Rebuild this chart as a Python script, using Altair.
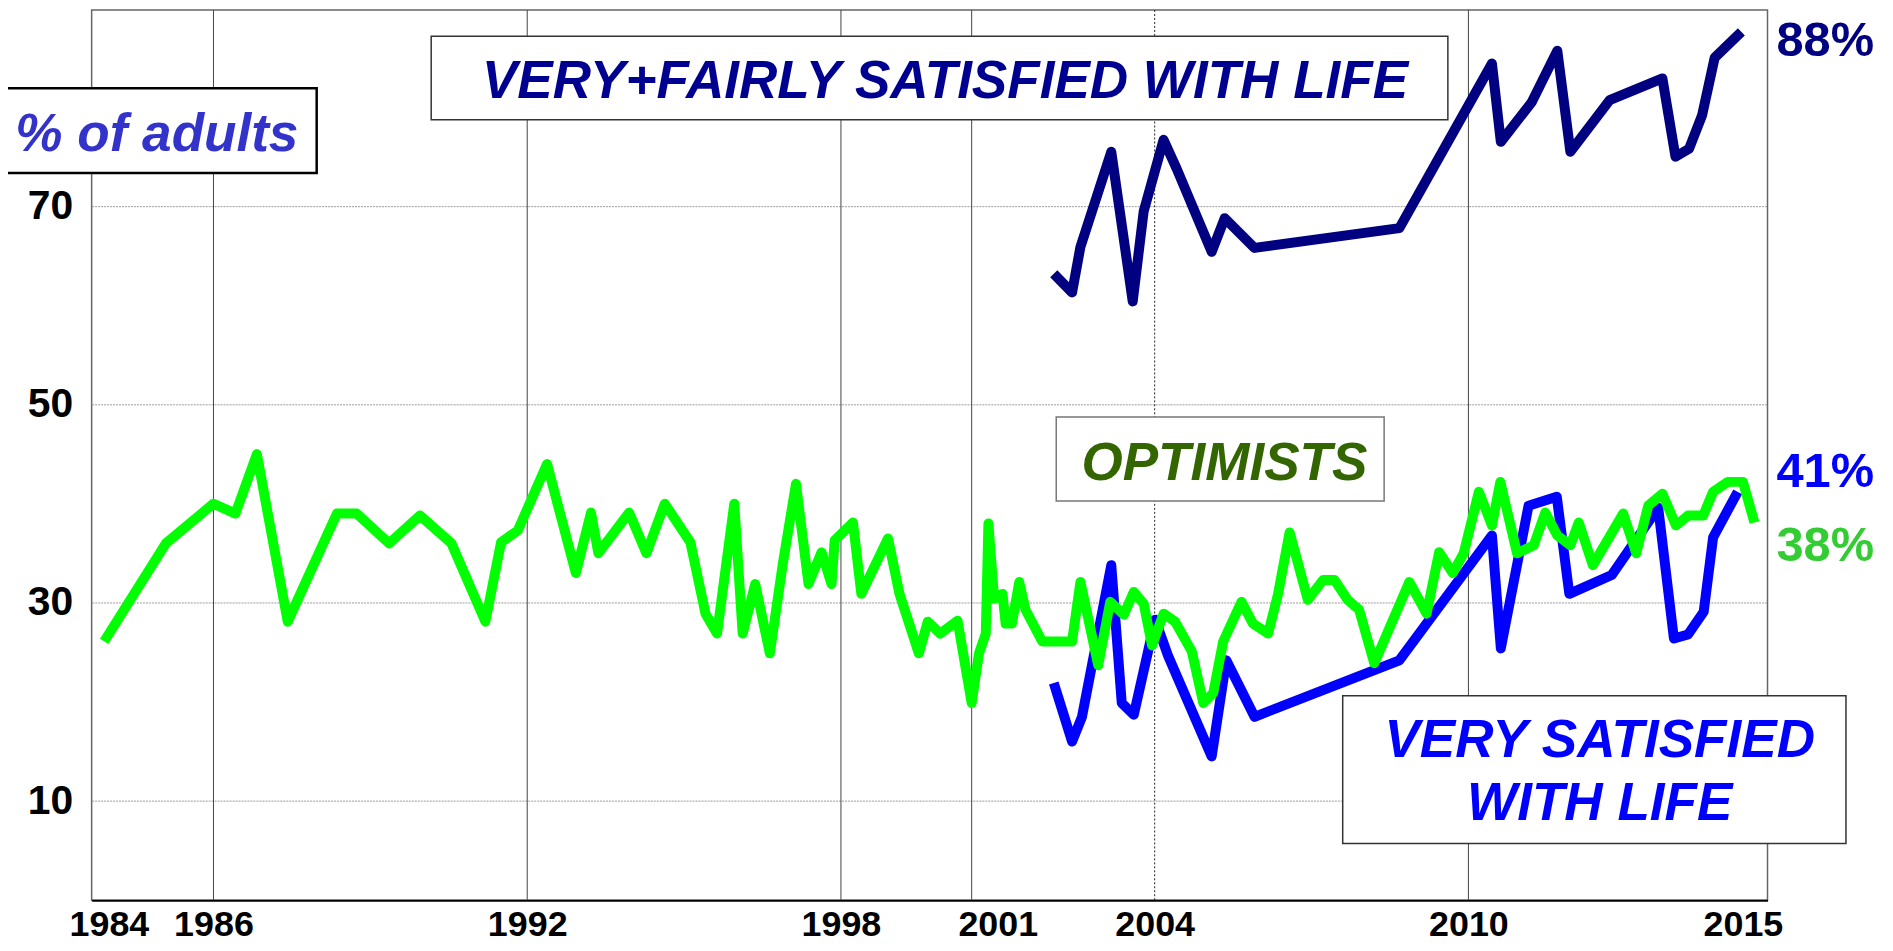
import altair as alt
import pandas as pd

# ---------------- data ----------------
opt_year = [1983.91, 1985.09, 1986.0, 1986.42, 1986.83, 1987.42, 1988.36, 1988.74, 1989.36, 1989.95,
            1990.55, 1991.2, 1991.5, 1991.82, 1992.38, 1992.93, 1993.22, 1993.36, 1993.95, 1994.28,
            1994.63, 1995.12, 1995.41, 1995.63, 1995.96, 1996.12, 1996.36, 1996.64, 1996.89, 1997.14,
            1997.38, 1997.63, 1997.82, 1997.88, 1998.23, 1998.39, 1998.9, 1999.12, 1999.49, 1999.66,
            1999.9, 2000.23, 2000.5, 2000.64, 2000.77, 2000.82, 2000.93, 2001.09, 2001.15, 2001.27,
            2001.41, 2001.53, 2001.85, 2002.42, 2002.58, 2002.92, 2003.15, 2003.41, 2003.6, 2003.79,
            2003.95, 2004.17, 2004.39, 2004.71, 2004.93, 2005.12, 2005.31, 2005.66, 2005.88, 2006.17,
            2006.36, 2006.58, 2006.93, 2007.22, 2007.44, 2007.69, 2007.91, 2008.2, 2008.87, 2009.2,
            2009.44, 2009.7, 2009.91, 2010.2, 2010.45, 2010.61, 2010.93, 2011.25, 2011.47, 2011.7,
            2011.95, 2012.11, 2012.38, 2012.96, 2013.21, 2013.44, 2013.71, 2013.97, 2014.2, 2014.49,
            2014.68, 2014.96, 2015.25, 2015.47]
opt_val = [26.1, 36.0, 40.0, 39.0, 45.0, 28.1, 39.0, 39.0, 36.0, 38.8,
           36.0, 28.1, 36.1, 37.3, 44.0, 33.0, 39.1, 35.0, 39.1, 35.0,
           40.0, 36.1, 28.9, 26.9, 40.0, 26.9, 31.9, 24.9, 34.0, 42.0,
           31.9, 35.1, 31.9, 36.3, 38.1, 30.9, 36.5, 30.9, 24.9, 28.1,
           26.9, 28.2, 19.9, 24.9, 26.9, 38.0, 30.4, 30.9, 27.9, 27.9,
           32.1, 29.3, 26.1, 26.1, 32.1, 23.7, 30.1, 28.8, 31.1, 29.9,
           25.7, 28.9, 28.1, 25.1, 19.9, 20.9, 26.1, 30.1, 27.9, 26.9,
           30.9, 37.1, 30.3, 32.3, 32.3, 30.3, 29.3, 23.9, 32.1, 28.9,
           35.1, 33.0, 35.0, 41.2, 37.8, 42.2, 35.0, 35.8, 39.1, 36.8,
           35.8, 38.1, 33.8, 39.0, 35.0, 39.8, 41.0, 37.8, 38.8, 38.8,
           41.2, 42.2, 42.2, 38.1]

vs_year = [2002.07, 2002.42, 2002.61, 2003.17, 2003.37, 2003.6, 2004.01, 2004.26, 2005.09, 2005.37,
           2005.91, 2008.68, 2010.45, 2010.62, 2011.15, 2011.69, 2011.93, 2012.74, 2013.63, 2013.93,
           2014.2, 2014.5, 2014.68, 2015.15]
vs_val = [21.9, 16.0, 18.5, 33.8, 19.9, 18.7, 28.3, 24.6, 14.5, 24.2,
          18.5, 24.2, 36.8, 25.4, 39.8, 40.7, 30.9, 32.8, 39.6, 26.4,
          26.8, 29.1, 36.6, 41.2]

vf_year = [2002.07, 2002.42, 2002.58, 2003.17, 2003.58, 2003.79, 2004.17, 2004.42, 2005.09, 2005.34,
           2005.91, 2008.68, 2010.45, 2010.62, 2011.21, 2011.7, 2011.95, 2012.7, 2013.71, 2013.96,
           2014.22, 2014.47, 2014.71, 2015.22]
vf_val = [63.2, 61.3, 65.9, 75.5, 60.4, 69.5, 76.7, 73.8, 65.4, 68.8,
          65.8, 67.8, 84.4, 76.5, 80.5, 85.7, 75.5, 80.7, 82.9, 75.0,
          75.8, 79.2, 85.0, 87.6]

tick_years = [1984, 1986, 1992, 1998, 2001, 2004, 2010, 2015.25]
grid_years = [1986, 1992, 1998, 2000.5, 2010]
dotted_grid_years = [2004]
y_ticks = [10, 30, 50, 70]

# ---------------- chart ----------------
FONT = "Liberation Sans"
W, H = 1683, 894
BOX_FS = 53.3

x_scale = alt.Scale(domain=[1983.67, 2015.72], nice=False, zero=False)
y_scale = alt.Scale(domain=[0, 89.8], nice=False)

x_axis = alt.Axis(values=tick_years, format="d", title=None, grid=False, ticks=False,
                  domain=True, domainColor="#000000", domainWidth=2,
                  labelFont=FONT, labelFontSize=36, labelFontWeight="bold", labelColor="#000000",
                  labelPadding=7, labelFlush=False, labelOverlap=False)
y_axis = alt.Axis(values=y_ticks, title=None, grid=True, gridColor="#9a9a9a", gridDash=[2, 1],
                  gridWidth=1, ticks=False, domain=False,
                  labelFont=FONT, labelFontSize=41, labelFontWeight="bold", labelColor="#000000",
                  labelPadding=19)

X = alt.X("year:Q", scale=x_scale, axis=x_axis)
Y = alt.Y("value:Q", scale=y_scale, axis=y_axis)

one = pd.DataFrame({"k": [0]})

grid_solid = alt.Chart(pd.DataFrame({"year": grid_years})).mark_rule(
    color="#444444", strokeWidth=1).encode(x=X)
grid_dot = alt.Chart(pd.DataFrame({"year": dotted_grid_years})).mark_rule(
    color="#222222", strokeWidth=1, strokeDash=[2, 2]).encode(x=X)


def line(years, vals, color):
    df = pd.DataFrame({"year": years, "value": vals})
    return alt.Chart(df).mark_line(color=color, strokeWidth=10, strokeJoin="round",
                                   strokeCap="butt").encode(x=X, y=Y)


l_vf = line(vf_year, vf_val, "#000080")
l_vs = line(vs_year, vs_val, "#0000ff")
l_opt = line(opt_year, opt_val, "#00ff00")


def box(x0, x1, y0, y1, stroke, sw):
    return alt.Chart(one).mark_rect(fill="white", stroke=stroke, strokeWidth=sw).encode(
        x=alt.value(x0), x2=alt.value(x1), y=alt.value(y0), y2=alt.value(y1))


def label(txt, x, y, color, size=BOX_FS, italic=True, align="center"):
    kw = dict(text=txt, font=FONT, fontSize=size, fontWeight="bold", color=color,
              align=align, baseline="alphabetic")
    if italic:
        kw["fontStyle"] = "italic"
    return alt.Chart(one).mark_text(**kw).encode(x=alt.value(x), y=alt.value(y))


layers = [
    grid_solid, grid_dot,
    l_vf, l_vs, l_opt,
    box(-92, 226, 78.7, 163.7, "#000000", 2.5),
    label("% of adults", 65.5, 142, "#3333cc"),
    box(341, 1362, 26.3, 110.3, "#333333", 1.5),
    label("VERY+FAIRLY SATISFIED WITH LIFE", 857, 88.7, "#000090"),
    box(968.7, 1298, 408.7, 493, "#777777", 1.5),
    label("OPTIMISTS", 1137.6, 472, "#336600"),
    box(1256.4, 1761.8, 688.7, 837, "#333333", 1.5),
    label("VERY SATISFIED", 1514.5, 750, "#0000ff"),
    label("WITH LIFE", 1514.5, 813.7, "#0000ff"),
    label("88%", 1692, 46, "#000080", size=49, italic=False, align="left"),
    label("41%", 1692, 479, "#0000ff", size=49, italic=False, align="left"),
    label("38%", 1692, 553, "#33cc33", size=49, italic=False, align="left"),
]

chart = alt.layer(*layers).properties(
    width=W, height=H,
    padding={"left": 84, "top": 0, "right": 118, "bottom": 47},
    autosize=alt.AutoSizeParams(type="none"),
).configure_view(stroke="#666666", strokeWidth=1.5)

chart.save("out.html", embed_options={"renderer": "svg", "actions": False})
